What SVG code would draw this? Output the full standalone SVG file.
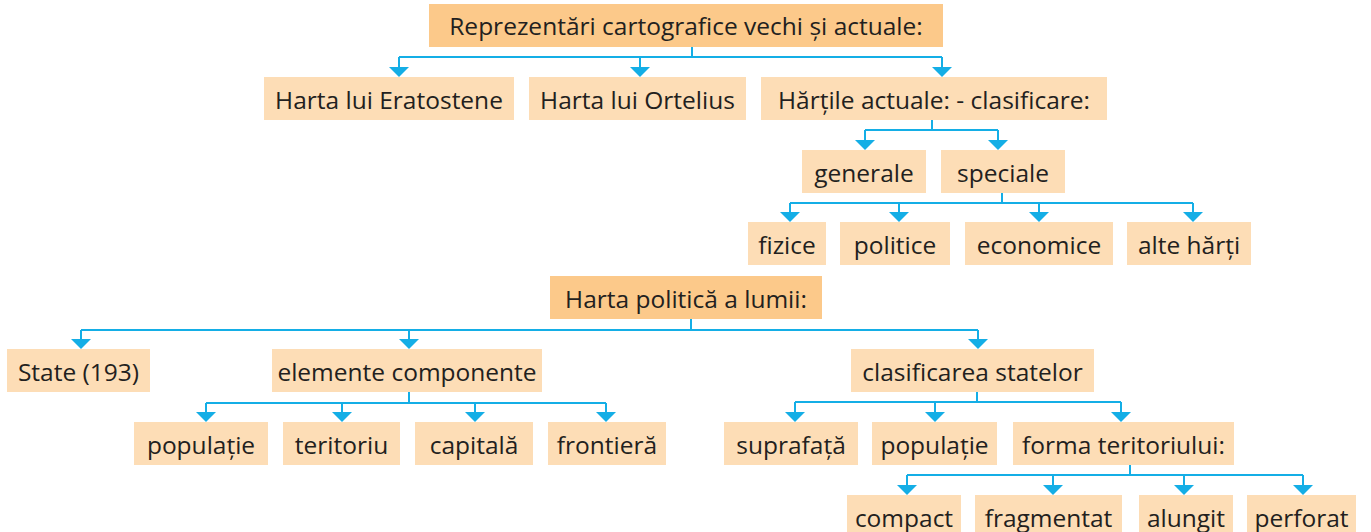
<svg xmlns="http://www.w3.org/2000/svg" width="1371" height="532" viewBox="0 0 1371 532">
<defs>
<style>
.box{fill:#FDDDB6}
.main{fill:#FCC98A}
text{font-family:"Open Sans","Noto Sans","Liberation Sans",sans-serif;font-size:24.5px;fill:#231F20;text-anchor:middle}
.ln{fill:none;stroke:#14AEE6;stroke-width:2}
</style>
<marker id="ah" markerUnits="userSpaceOnUse" markerWidth="20" markerHeight="10" viewBox="0 0 20 10" refX="10" refY="0" orient="0" overflow="visible">
<path d="M0,0 L20,0 L10,10 Z" fill="#14AEE6"/>
</marker>
</defs>
<rect width="1371" height="532" fill="#fff"/>
<g id="connectors">
<path class="ln" d="M692,47 V57 M399,57 H942"/>
<path class="ln" d="M399,57 V67" marker-end="url(#ah)"/>
<path class="ln" d="M640,57 V67" marker-end="url(#ah)"/>
<path class="ln" d="M942,57 V67" marker-end="url(#ah)"/>
<path class="ln" d="M932,120 V130 M865,130 H998"/>
<path class="ln" d="M865,130 V140" marker-end="url(#ah)"/>
<path class="ln" d="M998,130 V140" marker-end="url(#ah)"/>
<path class="ln" d="M1002,193 V203 M790,203 H1193"/>
<path class="ln" d="M790,203 V212" marker-end="url(#ah)"/>
<path class="ln" d="M899,203 V212" marker-end="url(#ah)"/>
<path class="ln" d="M1039,203 V212" marker-end="url(#ah)"/>
<path class="ln" d="M1193,203 V212" marker-end="url(#ah)"/>
<path class="ln" d="M691,319 V330 M81,330 H978"/>
<path class="ln" d="M81,330 V339" marker-end="url(#ah)"/>
<path class="ln" d="M409,330 V339" marker-end="url(#ah)"/>
<path class="ln" d="M978,330 V339" marker-end="url(#ah)"/>
<path class="ln" d="M409,392 V403 M206,403 H606"/>
<path class="ln" d="M206,403 V412" marker-end="url(#ah)"/>
<path class="ln" d="M342,403 V412" marker-end="url(#ah)"/>
<path class="ln" d="M475,403 V412" marker-end="url(#ah)"/>
<path class="ln" d="M606,403 V412" marker-end="url(#ah)"/>
<path class="ln" d="M977,392 V402 M795,402 H1121"/>
<path class="ln" d="M795,402 V412" marker-end="url(#ah)"/>
<path class="ln" d="M935,402 V412" marker-end="url(#ah)"/>
<path class="ln" d="M1121,402 V412" marker-end="url(#ah)"/>
<path class="ln" d="M1130,465 V475 M907,475 H1303"/>
<path class="ln" d="M907,475 V485" marker-end="url(#ah)"/>
<path class="ln" d="M1053,475 V485" marker-end="url(#ah)"/>
<path class="ln" d="M1184,475 V485" marker-end="url(#ah)"/>
<path class="ln" d="M1303,475 V485" marker-end="url(#ah)"/>
</g>
<g id="n-reprezentari"><rect class="main" x="429" y="4" width="514" height="43"/><text x="686" y="34.5">Reprezentări cartografice vechi și actuale:</text></g>
<g id="n-eratostene"><rect class="box" x="264" y="77" width="250" height="43"/><text x="389" y="108.5">Harta lui Eratostene</text></g>
<g id="n-ortelius"><rect class="box" x="529" y="77" width="217" height="43"/><text x="637.5" y="108.5">Harta lui Ortelius</text></g>
<g id="n-hartile"><rect class="box" x="761" y="77" width="346" height="43"/><text x="934" y="108.5">Hărțile actuale: - clasificare:</text></g>
<g id="n-generale"><rect class="box" x="802" y="150" width="124" height="43"/><text x="864" y="181.5">generale</text></g>
<g id="n-speciale"><rect class="box" x="941" y="150" width="124" height="43"/><text x="1003" y="181.5">speciale</text></g>
<g id="n-fizice"><rect class="box" x="748" y="222" width="78" height="43"/><text x="787" y="253.5">fizice</text></g>
<g id="n-politice"><rect class="box" x="840" y="222" width="110" height="43"/><text x="895" y="253.5">politice</text></g>
<g id="n-economice"><rect class="box" x="965" y="222" width="148" height="43"/><text x="1039" y="253.5">economice</text></g>
<g id="n-alte"><rect class="box" x="1127" y="222" width="124" height="43"/><text x="1189" y="253.5">alte hărți</text></g>
<g id="n-harta-politica"><rect class="main" x="550" y="276" width="272" height="43"/><text x="686" y="307.5">Harta politică a lumii:</text></g>
<g id="n-state"><rect class="box" x="7" y="349" width="143" height="43"/><text x="78.5" y="380.5">State (193)</text></g>
<g id="n-elemente"><rect class="box" x="272" y="349" width="270" height="43"/><text x="407" y="380.5">elemente componente</text></g>
<g id="n-clasificarea"><rect class="box" x="851" y="349" width="243" height="43"/><text x="972.5" y="380.5">clasificarea statelor</text></g>
<g id="n-populatie1"><rect class="box" x="134" y="422" width="134" height="43"/><text x="201" y="453.5">populație</text></g>
<g id="n-teritoriu"><rect class="box" x="283" y="422" width="117" height="43"/><text x="341.5" y="453.5">teritoriu</text></g>
<g id="n-capitala"><rect class="box" x="415" y="422" width="118" height="43"/><text x="474" y="453.5">capitală</text></g>
<g id="n-frontiera"><rect class="box" x="548" y="422" width="118" height="43"/><text x="607" y="453.5">frontieră</text></g>
<g id="n-suprafata"><rect class="box" x="724" y="422" width="134" height="43"/><text x="791" y="453.5">suprafață</text></g>
<g id="n-populatie2"><rect class="box" x="872" y="422" width="125" height="43"/><text x="934.5" y="453.5">populație</text></g>
<g id="n-forma"><rect class="box" x="1013" y="422" width="221" height="43"/><text x="1123.5" y="453.5">forma teritoriului:</text></g>
<g id="n-compact"><rect class="box" x="847" y="495" width="114" height="43"/><text x="904" y="526.5">compact</text></g>
<g id="n-fragmentat"><rect class="box" x="975" y="495" width="147" height="43"/><text x="1048.5" y="526.5">fragmentat</text></g>
<g id="n-alungit"><rect class="box" x="1139" y="495" width="94" height="43"/><text x="1186" y="526.5">alungit</text></g>
<g id="n-perforat"><rect class="box" x="1247" y="495" width="109" height="43"/><text x="1301.5" y="526.5">perforat</text></g>
</svg>
